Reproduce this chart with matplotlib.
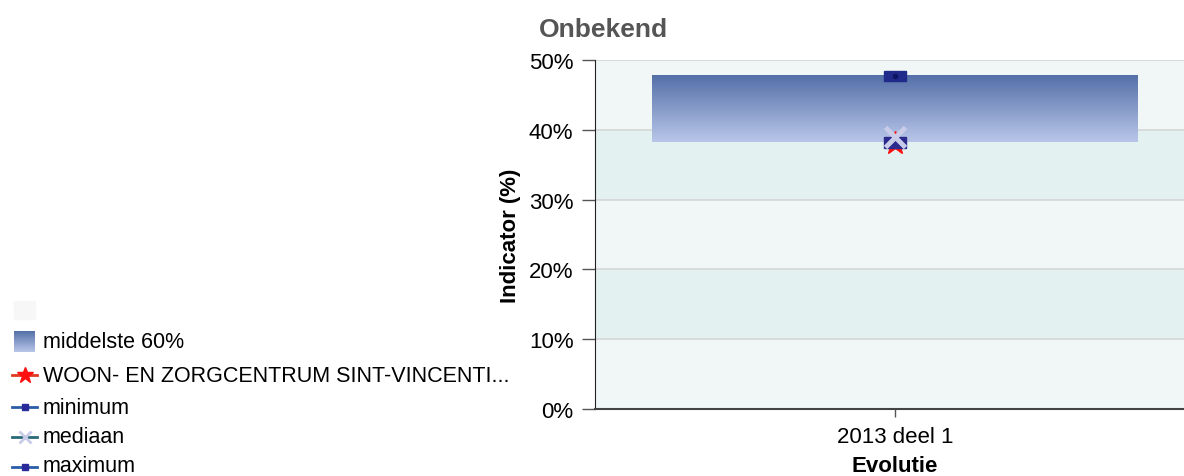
import numpy as np
import matplotlib
matplotlib.use("Agg")
import matplotlib.pyplot as plt
from matplotlib.patches import Rectangle
from matplotlib.lines import Line2D
from matplotlib.colors import LinearSegmentedColormap

# ---- data ----
categories = ["2013 deel 1"]
p20 = [38.2]
p80 = [47.7]
facility = [38.1]
minimum = [38.2]
median = [39.0]
maximum = [47.7]
yticks = [0, 10, 20, 30, 40, 50]
legend_labels = ["middelste 60%", "WOON- EN ZORGCENTRUM SINT-VINCENTI...",
                 "minimum", "mediaan", "maximum"]

W, H = 1184, 477
plt.rcParams['font.family'] = ['Liberation Sans', 'DejaVu Sans']
fig = plt.figure(figsize=(W / 100, H / 100), dpi=100)

ax = fig.add_axes([595 / W, 1 - 410 / H, 600 / W, (410 - 61) / H])
ax.set_xlim(-0.5, 0.5)
ax.set_ylim(0, 50)

# alternating background bands
for i, lo in enumerate(range(0, 50, 10)):
    col = "#f0f7f6" if i % 2 == 0 else "#e3f1f0"
    ax.axhspan(lo, lo + 10, color=col, zorder=0, lw=0)
for y in yticks[1:]:
    ax.axhline(y, color="#d6d6d6", lw=1.2, zorder=1)

x = np.arange(len(categories))
bw = 0.405
grad = np.linspace(0, 1, 256).reshape(-1, 1)
cmap = LinearSegmentedColormap.from_list("g", ["#b9c6e9", "#5470a8"])
for xi, lo, hi in zip(x, p20, p80):
    ax.imshow(grad, cmap=cmap, aspect="auto", origin="lower",
              extent=[xi - bw, xi + bw, lo, hi], zorder=2)

ax.plot(x, facility, marker="*", color="#ff1010", ms=17, ls="none", zorder=3)
for xi, v in zip(x, maximum):
    ax.add_patch(Rectangle((xi - 0.018, v - 0.75), 0.036, 1.5,
                           color="#1f2a8a", zorder=4))
    ax.plot([xi], [v], "o", color="#0d1560", ms=3, zorder=5)
for xi, v in zip(x, minimum):
    ax.add_patch(Rectangle((xi - 0.018, v - 0.75), 0.036, 1.5,
                           color="#2c2a8c", zorder=4))
ax.plot(x, median, marker="x", color="#c8cce8", ms=14, mew=3.5, ls="none", zorder=6)

ax.set_xticks(x)
ax.set_xticklabels(categories, fontsize=16)
ax.set_yticks(yticks)
ax.set_yticklabels([f"{v}%" for v in yticks], fontsize=16)
ax.tick_params(axis="y", length=9.5, width=1, color="#555555", pad=6)
ax.tick_params(axis="x", length=6, width=1, color="#555555", pad=6)
for s in ["top", "right"]:
    ax.spines[s].set_visible(False)
ax.spines["left"].set_color("#222222")
ax.spines["bottom"].set_color("#444444")
ax.spines["bottom"].set_linewidth(1.5)
ax.set_xlabel("Evolutie", fontsize=16, fontweight="bold", labelpad=6)
ax.set_ylabel("Indicator (%)", fontsize=16, fontweight="bold", labelpad=6)

fig.text(603 / W, 1 - 30 / H, "Onbekend", fontsize=19, fontweight="bold",
         color="#555555", ha="center", va="center")

# ---- manual legend ----
def fy(py):
    return 1 - py / H

fig.patches.append(Rectangle((14 / W, fy(320)), 21 / W, 18 / H,
                             transform=fig.transFigure, color="#f7f7f7"))
lgax = fig.add_axes([14 / W, fy(353), 21 / W, 21 / H])
lgax.imshow(grad, cmap=cmap, aspect="auto", origin="lower", extent=[0, 1, 0, 1])
lgax.axis("off")
rows = [343, 377, 408, 438, 467]
for lab, py in zip(legend_labels, rows):
    fig.text(43 / W, fy(py), lab, fontsize=15.5, va="center", ha="left")

def legline(py, lc, marker, mc, ms, mew=1):
    fig.lines.append(Line2D([12 / W, 37 / W], [fy(py), fy(py)], color=lc, lw=2,
                            transform=fig.transFigure))
    fig.lines.append(Line2D([24.5 / W], [fy(py)], marker=marker, color=mc, ms=ms,
                            mew=mew, ls="none", transform=fig.transFigure))

legline(376, "#e03a20", "*", "#ff1010", 12)
legline(408, "#2a5ca8", "s", "#2a2a9a", 5)
legline(438, "#2a6a78", "x", "#c8cce8", 8, 2)
legline(468, "#2a5ca8", "s", "#2a2a9a", 5)

fig.savefig("out.png", dpi=100)
